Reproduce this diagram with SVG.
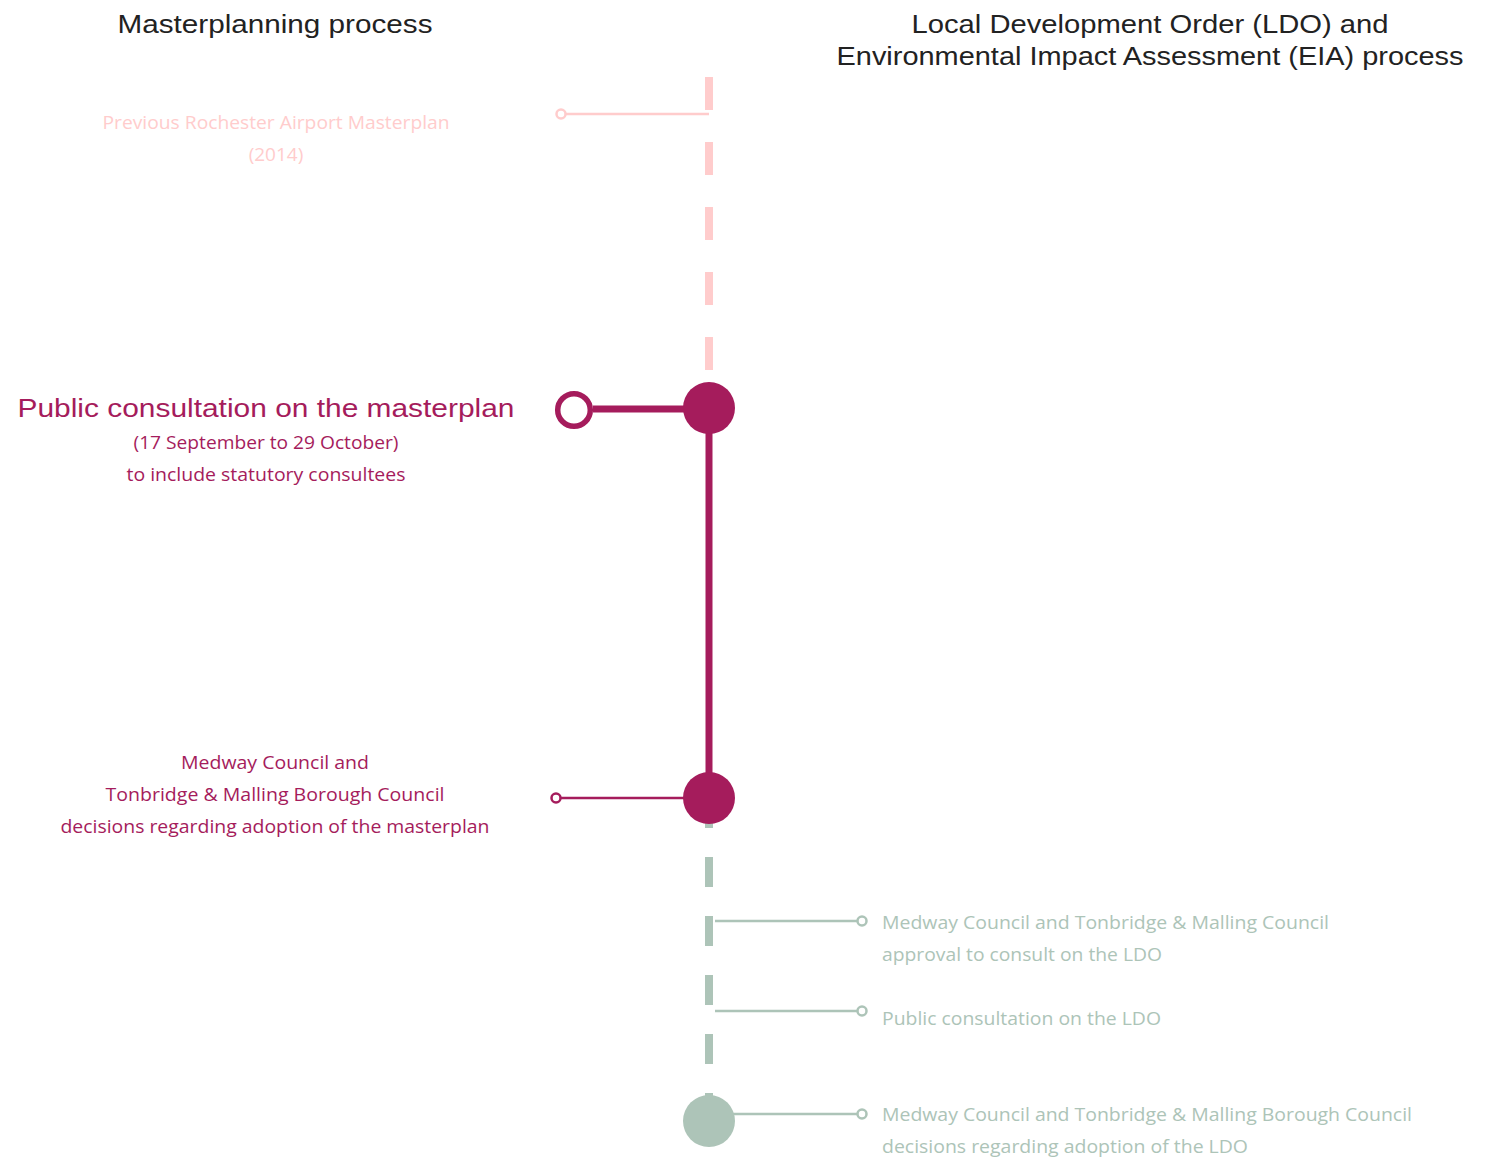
<svg xmlns="http://www.w3.org/2000/svg" width="1503" height="1158" viewBox="0 0 1503 1158">
<style>
.title{font-family:"Liberation Sans",Arial,sans-serif;font-size:26px;fill:#222;text-anchor:middle}
.body{font-family:"Open Sans","Noto Sans",sans-serif;font-size:19px}
.pink{fill:#ffcccc}
.mag{fill:#a51c5c}
.grn{fill:#adc4b8}
.mid{text-anchor:middle}
</style>
<rect width="1503" height="1158" fill="#fff"/>
<g id="headers">
<text class="title" x="275" y="33" textLength="315" lengthAdjust="spacingAndGlyphs">Masterplanning process</text>
<text class="title" x="1150" y="33" textLength="477" lengthAdjust="spacingAndGlyphs">Local Development Order (LDO) and</text>
<text class="title" x="1150" y="65" textLength="627" lengthAdjust="spacingAndGlyphs">Environmental Impact Assessment (EIA) process</text>
</g>
<g id="connectors">
<line x1="709" y1="77" x2="709" y2="382" stroke="#ffcccc" stroke-width="8" stroke-dasharray="33 32"/>
<line x1="709" y1="798" x2="709" y2="1120" stroke="#adc4b8" stroke-width="8" stroke-dasharray="30 29"/>
<line x1="709" y1="408" x2="709" y2="798" stroke="#a51c5c" stroke-width="7"/>
<line x1="565" y1="114" x2="709" y2="114" stroke="#ffcccc" stroke-width="2.5"/>
<line x1="593" y1="409" x2="709" y2="409" stroke="#a51c5c" stroke-width="7"/>
<line x1="561" y1="798" x2="709" y2="798" stroke="#a51c5c" stroke-width="2.5"/>
<line x1="715" y1="921" x2="857" y2="921" stroke="#adc4b8" stroke-width="2.5"/>
<line x1="715" y1="1011" x2="857" y2="1011" stroke="#adc4b8" stroke-width="2.5"/>
<line x1="709" y1="1114" x2="857" y2="1114" stroke="#adc4b8" stroke-width="2.5"/>
</g>
<g id="node-previous">
<circle cx="561" cy="114" r="4.5" fill="#fff" stroke="#ffcccc" stroke-width="2.5"/>
<text class="body pink mid" x="276" y="129" textLength="347" lengthAdjust="spacingAndGlyphs">Previous Rochester Airport Masterplan</text>
<text class="body pink mid" x="276" y="161">(2014)</text>
</g>
<g id="node-consultation">
<circle cx="709" cy="408" r="26" fill="#a51c5c"/>
<circle cx="574" cy="410" r="16.3" fill="#fff" stroke="#a51c5c" stroke-width="5.5"/>
<text class="mid mag" x="266" y="417" style="font-family:'Liberation Sans',Arial,sans-serif;font-size:26px" textLength="497" lengthAdjust="spacingAndGlyphs">Public consultation on the masterplan</text>
<text class="body mag mid" x="266" y="449" textLength="265" lengthAdjust="spacingAndGlyphs">(17 September to 29 October)</text>
<text class="body mag mid" x="266" y="481" textLength="279" lengthAdjust="spacingAndGlyphs">to include statutory consultees</text>
</g>
<g id="node-decisions">
<circle cx="709" cy="798" r="26" fill="#a51c5c"/>
<circle cx="556" cy="798" r="4.5" fill="#fff" stroke="#a51c5c" stroke-width="2.5"/>
<text class="body mag mid" x="275" y="769" textLength="188" lengthAdjust="spacingAndGlyphs">Medway Council and</text>
<text class="body mag mid" x="275" y="801" textLength="339" lengthAdjust="spacingAndGlyphs">Tonbridge &amp; Malling Borough Council</text>
<text class="body mag mid" x="275" y="833" textLength="429" lengthAdjust="spacingAndGlyphs">decisions regarding adoption of the masterplan</text>
</g>
<g id="node-approval">
<circle cx="862" cy="921" r="4.5" fill="#fff" stroke="#adc4b8" stroke-width="2.5"/>
<text class="body grn" x="882" y="929" textLength="447" lengthAdjust="spacingAndGlyphs">Medway Council and Tonbridge &amp; Malling Council</text>
<text class="body grn" x="882" y="961" textLength="280" lengthAdjust="spacingAndGlyphs">approval to consult on the LDO</text>
</g>
<g id="node-ldo-consultation">
<circle cx="862" cy="1011" r="4.5" fill="#fff" stroke="#adc4b8" stroke-width="2.5"/>
<text class="body grn" x="882" y="1025" textLength="279" lengthAdjust="spacingAndGlyphs">Public consultation on the LDO</text>
</g>
<g id="node-ldo-decisions">
<circle cx="709" cy="1121" r="26" fill="#adc4b8"/>
<circle cx="862" cy="1114" r="4.5" fill="#fff" stroke="#adc4b8" stroke-width="2.5"/>
<text class="body grn" x="882" y="1121" textLength="530" lengthAdjust="spacingAndGlyphs">Medway Council and Tonbridge &amp; Malling Borough Council</text>
<text class="body grn" x="882" y="1153" textLength="366" lengthAdjust="spacingAndGlyphs">decisions regarding adoption of the LDO</text>
</g>
</svg>
